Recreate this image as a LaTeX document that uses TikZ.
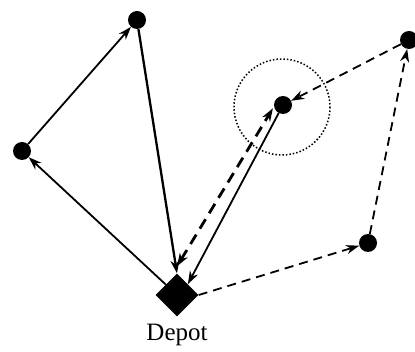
\documentclass[tikz,border=0pt]{standalone}
\usepackage{fontspec}
\setmainfont{Liberation Serif}
\usetikzlibrary{shapes.geometric,arrows.meta}
\tikzset{
 stop/.style={circle,fill,inner sep=0pt,minimum size=18pt},
 depot/.style={diamond,fill,inner sep=0pt,minimum size=43pt},
 tip/.tip={Stealth[length=13pt,width=9pt,inset=4pt]},
 leg/.style={line width=1.8pt,-tip},
 dleg/.style={leg,dash pattern=on 9pt off 6pt},
 back/.style={line width=2.8pt,tip-tip,dash pattern=on 11pt off 7pt},
}
\begin{document}
\begin{tikzpicture}[x=1pt,y=-1pt]
\useasboundingbox (0,0) rectangle (415,352);
\node[depot] (d) at (177,295) {};
\node at (177,335) {\fontsize{25}{28}\selectfont Depot};
\foreach \n/\p in {a/{(22,151)},b/{(137,20)},c/{(283,105)},e/{(409,40)},f/{(368,243)}}
 \node[stop] (\n) at \p {};
\draw[dotted,line width=1.5pt] (282,107) circle (48);
% first tour
\draw[leg] (d) -- (a);
\draw[leg] (a) -- (b);
\draw[leg,line width=2.3pt] (b) -- (d.north);
% second tour
\draw[leg] (c) -- (d.north east);
\draw[back,shorten >=2pt] ([yshift=7pt]d.north) -- (c.190);
\draw[dleg] (d.east) -- (f);
\draw[dleg] (f) -- (e);
\draw[dleg] (e) -- (c);
\end{tikzpicture}
\end{document}
